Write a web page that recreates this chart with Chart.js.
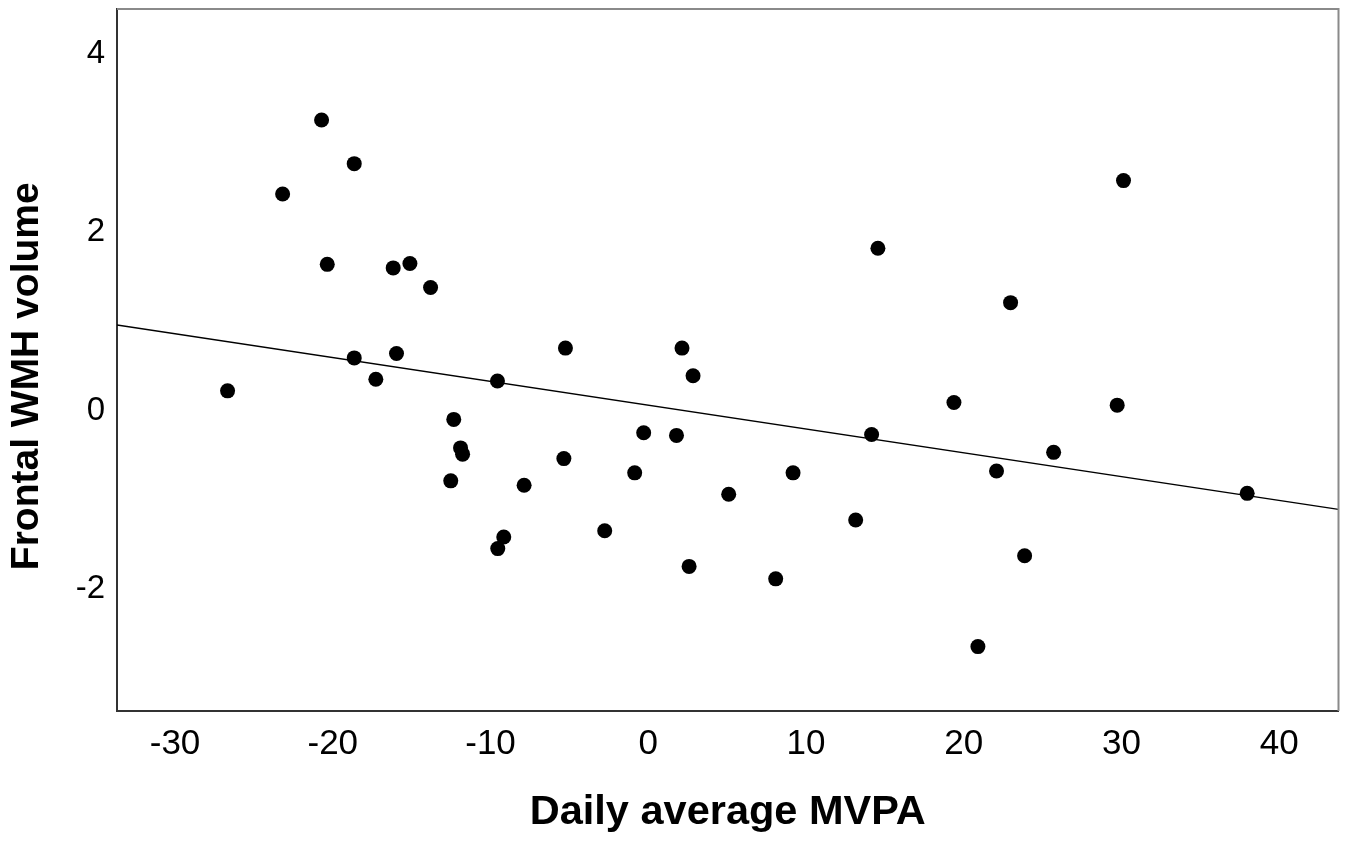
<!DOCTYPE html>
<html>
<head>
<meta charset="utf-8">
<title>Frontal WMH volume vs Daily average MVPA</title>
<script src="https://cdn.jsdelivr.net/npm/chart.js@4.4.0/dist/chart.umd.min.js"></script>
<style>
  html, body { margin: 0; padding: 0; background: #fff; }
  #wrap { width: 1346px; height: 843px; }
</style>
</head>
<body>
<div id="wrap"><canvas id="scatterChart"></canvas></div>
<script>
// values
var mvpa = [
  -20.71, -18.64, -23.18, -20.35, -16.17, -15.11, -13.80, -18.64, -15.96, -17.27,
  -26.67, -5.25, 2.14, 2.84, -9.56, -12.33, -0.29, 1.79, 14.16, -11.90,
  -11.77, -5.35, -0.86, 9.18, -12.52, -7.87, 5.10, 13.15, -2.76, -9.16,
  -9.54, 2.59, 8.08, 30.13, 14.56, 22.97, 19.38, 29.73, 25.70, 22.08,
  37.97, 23.86, 20.90
];
var wmh = [
  3.26, 2.77, 2.43, 1.64, 1.60, 1.65, 1.38, 0.59, 0.64, 0.35,
  0.22, 0.70, 0.70, 0.39, 0.33, -0.10, -0.25, -0.28, -0.27, -0.42,
  -0.49, -0.54, -0.70, -0.70, -0.79, -0.84, -0.94, -1.23, -1.35, -1.42,
  -1.55, -1.75, -1.89, 2.58, 1.82, 1.21, 0.09, 0.06, -0.47, -0.68,
  -0.93, -1.63, -2.65
];

// fit line ends (at the edges of the plot)
var fitX = [-33.68, 43.76];
var fitY = [0.96, -1.11];

var xTicks = [-30, -20, -10, 0, 10, 20, 30, 40];
var yTicks = [-2, 0, 2, 4];
var xRange = [-33.68, 43.76];
var yRange = [-3.373, 4.506];

var points = [];
for (var i in mvpa) {
  points.push({x: mvpa[i], y: wmh[i]});
}
var fitLine = [];
for (var j in fitX) {
  fitLine.push({x: fitX[j], y: fitY[j]});
}

Chart.defaults.font.family = 'Arial, "Liberation Sans", sans-serif';
Chart.defaults.color = '#000';

// top and right sides of the box
var framePlugin = {
  id: 'frame',
  afterDraw: function(chart) {
    var a = chart.chartArea;
    var ctx = chart.ctx;
    ctx.save();
    ctx.strokeStyle = '#8a8a8a';
    ctx.lineWidth = 2;
    ctx.beginPath();
    ctx.moveTo(a.left, a.top);
    ctx.lineTo(a.right, a.top);
    ctx.lineTo(a.right, a.bottom);
    ctx.stroke();
    ctx.restore();
  }
};

var ctx = document.getElementById('scatterChart');

new Chart(ctx, {
  type: 'scatter',
  data: {
    datasets: [
      {
        label: 'Fit',
        type: 'line',
        data: fitLine,
        borderColor: '#000',
        borderWidth: 1.5,
        pointRadius: 0,
        fill: false,
        order: 2
      },
      {
        label: 'Participants',
        data: points,
        backgroundColor: '#000',
        borderWidth: 0,
        pointRadius: 7.5,
        pointHoverRadius: 7.5,
        order: 1
      }
    ]
  },
  options: {
    responsive: true,
    maintainAspectRatio: false,
    animation: false,
    layout: { padding: { top: 9, right: 7, bottom: 0, left: 0 } },
    plugins: {
      legend: { display: false },
      tooltip: { enabled: false }
    },
    scales: {
      x: {
        type: 'linear',
        min: xRange[0],
        max: xRange[1],
        afterBuildTicks: function(scale) {
          scale.ticks = xTicks.map(function(v) { return {value: v}; });
        },
        afterFit: function(scale) {
          scale.height = 132;
          scale.paddingLeft = 0;
          scale.paddingRight = 0;
        },
        grid: { display: false, drawTicks: false },
        border: { display: true, color: '#333', width: 2 },
        ticks: { font: { size: 35 }, padding: 12, maxRotation: 0 },
        title: {
          display: true,
          text: 'Daily average MVPA',
          font: { size: 41.5, weight: 'bold' },
          padding: { top: 0, bottom: 6 }
        }
      },
      y: {
        type: 'linear',
        min: yRange[0],
        max: yRange[1],
        afterBuildTicks: function(scale) {
          scale.ticks = yTicks.map(function(v) { return {value: v}; });
        },
        afterFit: function(scale) {
          scale.width = 117;
          scale.paddingTop = 0;
          scale.paddingBottom = 0;
        },
        grid: { display: false, drawTicks: false },
        border: { display: true, color: '#333', width: 2 },
        ticks: { font: { size: 33 }, padding: 12 },
        title: {
          display: true,
          // trailing spaces push the label a little lower, as in the original
          text: 'Frontal WMH volume   ',
          font: { size: 39, weight: 'bold' },
          padding: { top: 4, bottom: 0 }
        }
      }
    }
  },
  plugins: [framePlugin]
});
</script>
</body>
</html>
